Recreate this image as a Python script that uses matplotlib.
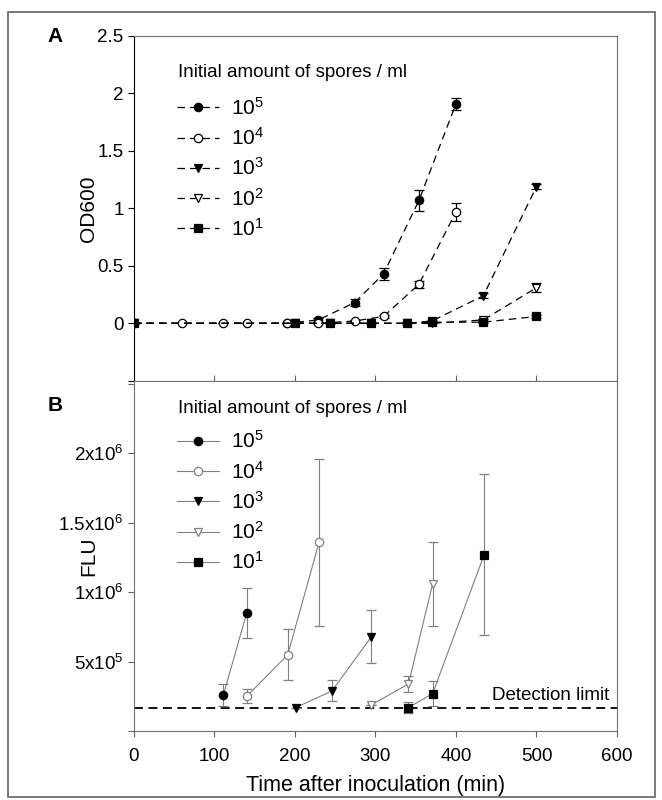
import matplotlib
matplotlib.use("Agg")
import matplotlib.pyplot as plt
from matplotlib.patches import Rectangle

plt.rcParams['font.family'] = ['Liberation Sans', 'DejaVu Sans']
plt.rcParams['mathtext.fontset'] = 'custom'
plt.rcParams['mathtext.rm'] = 'Liberation Sans'

# ---- Panel A: OD600 ----
labels = ['$\\mathregular{10^5}$', '$\\mathregular{10^4}$', '$\\mathregular{10^3}$',
          '$\\mathregular{10^2}$', '$\\mathregular{10^1}$']

t_a5 = [0, 190, 229, 274, 310, 354, 400]
od_a5 = [0, 0.0, 0.03, 0.18, 0.43, 1.07, 1.91]
err_a5 = [0, 0, 0.02, 0.03, 0.05, 0.09, 0.05]

t_a4 = [0, 60, 111, 140, 190, 229, 274, 310, 354, 400]
od_a4 = [0, 0, 0, 0, 0, 0.0, 0.02, 0.06, 0.34, 0.97]
err_a4 = [0, 0, 0, 0, 0, 0.01, 0.01, 0.01, 0.03, 0.08]

t_a3 = [0, 200, 243, 294, 339, 370, 434, 500]
od_a3 = [0, 0, 0, 0, 0, 0.02, 0.24, 1.19]
err_a3 = [0, 0, 0, 0, 0, 0.01, 0.02, 0.02]

t_a2 = [0, 200, 243, 294, 339, 370, 434, 500]
od_a2 = [0, 0, 0, 0, 0, 0, 0.03, 0.31]
err_a2 = [0, 0, 0, 0, 0, 0, 0.01, 0.04]

t_a1 = [0, 200, 243, 294, 339, 370, 434, 500]
od_a1 = [0, 0, 0, 0, 0, 0.01, 0.01, 0.06]
err_a1 = [0, 0, 0, 0, 0, 0, 0.01, 0.01]

# ---- Panel B: FLU ----
t_b5 = [111, 140]
flu_b5 = [2.6e5, 8.5e5]
err_b5 = [0.8e5, 1.8e5]

t_b4 = [140, 191, 230]
flu_b4 = [2.5e5, 5.5e5, 1.36e6]
err_b4 = [0.5e5, 1.85e5, 6.0e5]

t_b3 = [201, 246, 295]
flu_b3 = [1.7e5, 2.9e5, 6.8e5]
err_b3 = [0, 0.75e5, 1.9e5]

t_b2 = [295, 341, 371]
flu_b2 = [1.9e5, 3.4e5, 1.06e6]
err_b2 = [0, 0.6e5, 3.0e5]

t_b1 = [341, 371, 435]
flu_b1 = [1.7e5, 2.7e5, 1.27e6]
err_b1 = [0.4e5, 0.9e5, 5.8e5]

detection_limit = 1.7e5

markers = ['o', 'o', 'v', 'v', 's']
filled = [True, False, True, False, True]
legend_title = 'Initial amount of spores / ml'

fig = plt.figure(figsize=(6.62, 8.0), dpi=100)
fig.patches.append(Rectangle((0.012, 0.004), 0.977, 0.981, transform=fig.transFigure,
                             fill=False, edgecolor='#707070', linewidth=1.3))

axA = fig.add_axes([0.2024, 0.524, 0.7296, 0.431])
axB = fig.add_axes([0.2024, 0.086, 0.7296, 0.438])

series_a = [(t_a5, od_a5, err_a5), (t_a4, od_a4, err_a4), (t_a3, od_a3, err_a3),
            (t_a2, od_a2, err_a2), (t_a1, od_a1, err_a1)]
handles_a = []
for (t, v, e), m, f, lab in zip(series_a, markers, filled, labels):
    c = axA.errorbar(t, v, yerr=e, fmt=m, linestyle=(0, (6, 4)), color='black', lw=0.9,
                     markersize=6, mfc='black' if f else 'white', mec='black', mew=0.9,
                     ecolor='black', elinewidth=0.9, capsize=3.5, capthick=0.9, label=lab)
    handles_a.append(c[0])

axA.set_xlim(0, 600)
axA.set_ylim(-0.5, 2.5)
axA.set_yticks([-0.5, 0, 0.5, 1, 1.5, 2, 2.5])
axA.set_yticklabels(['', '0', '0.5', '1', '1.5', '2', '2.5'])
axA.set_xticks([0, 100, 200, 300, 400, 500, 600])
axA.tick_params(axis='x', direction='in', labelbottom=False, length=4, color='#606060')
axA.tick_params(axis='y', direction='out', length=4, labelsize=13.5)
axA.set_ylabel('OD600', fontsize=15)
axA.yaxis.set_label_coords(-0.075, 0.5)
for s in ['top', 'right', 'bottom']:
    axA.spines[s].set_color('#707070')
axA.text(-0.164, 1.0, 'A', transform=axA.transAxes, fontsize=15, fontweight='bold',
         ha='center', va='center')
axA.text(0.091, 0.895, legend_title, transform=axA.transAxes, fontsize=13.5,
         ha='left', va='center')
axA.legend(handles=handles_a, labels=labels, loc='upper left', bbox_to_anchor=(0.05, 0.878),
           frameon=False, fontsize=15, handlelength=2.0, labelspacing=0.4,
           handletextpad=0.6)

series_b = [(t_b5, flu_b5, err_b5), (t_b4, flu_b4, err_b4), (t_b3, flu_b3, err_b3),
            (t_b2, flu_b2, err_b2), (t_b1, flu_b1, err_b1)]
handles_b = []
for (t, v, e), m, f, lab in zip(series_b, markers, filled, labels):
    c = axB.errorbar(t, v, yerr=e, fmt=m, linestyle='-', color='#808080', lw=0.8,
                     markersize=6, mfc='black' if f else 'white',
                     mec='black' if f else '#808080', mew=0.9,
                     ecolor='#808080', elinewidth=0.8, capsize=3.5, capthick=0.8, label=lab)
    handles_b.append(c[0])

axB.axhline(detection_limit, color='black', linestyle=(0, (5, 3)), lw=1.3, zorder=1)
axB.text(0.985, detection_limit + 0.25e5, 'Detection limit', transform=axB.get_yaxis_transform(),
         ha='right', va='bottom', fontsize=13.5)

axB.set_xlim(0, 600)
axB.set_ylim(0, 2.52e6)
axB.set_xticks([0, 100, 200, 300, 400, 500, 600])
axB.set_yticks([0, 5e5, 1e6, 1.5e6, 2e6, 2.5e6])
axB.set_yticklabels(['', '5x10$\\mathregular{^5}$', '1x10$\\mathregular{^6}$',
                     '1.5x10$\\mathregular{^6}$', '2x10$\\mathregular{^6}$', ''])
axB.tick_params(axis='both', direction='out', length=4, labelsize=13.5, color='#606060')
axB.tick_params(axis='x', pad=8)
axB.set_xlabel('Time after inoculation (min)', fontsize=15.5, labelpad=7)
axB.set_ylabel('FLU', fontsize=15)
axB.yaxis.set_label_coords(-0.075, 0.5)
for s in axB.spines.values():
    s.set_color('#707070')
axB.text(-0.164, 0.93, 'B', transform=axB.transAxes, fontsize=15, fontweight='bold',
         ha='center', va='center')
axB.text(0.091, 0.92, legend_title, transform=axB.transAxes, fontsize=13.5,
         ha='left', va='center')
axB.legend(handles=handles_b, labels=labels, loc='upper left', bbox_to_anchor=(0.05, 0.912),
           frameon=False, fontsize=15, handlelength=2.0, labelspacing=0.4,
           handletextpad=0.6)

fig.savefig('out.png', dpi=100)
